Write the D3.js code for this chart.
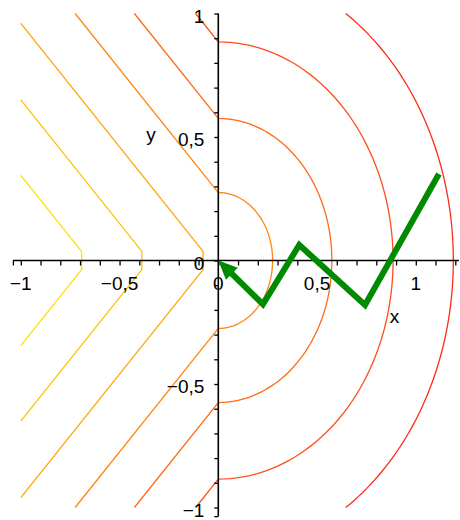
<!DOCTYPE html>
<html>
<head>
<meta charset="utf-8">
<script src="https://cdn.jsdelivr.net/npm/d3@7"></script>
<style>
  body { margin: 0; background: #fff; }
  svg { display: block; }
  text { font-family: "Liberation Sans", Arial, Helvetica, sans-serif; font-size: 19px; fill: #000; }
</style>
</head>
<body>
<svg id="chart" width="460" height="520"></svg>
<script>
// Contour levels of f(x, y): x + |y| on the left half-plane, sqrt(x^2 + y^2) on the right
const contourLevels = [-0.655, -0.35, -0.04, 0.275, 0.575, 0.885, 1.19];
const contourColors = ["#ffdf00", "#ffc300", "#ffa400", "#ff8712", "#ff6a18", "#ff4d1c", "#ff2a14"];
// half-height of the flat tip where the V-shaped levels meet the x-axis
const tipHalfHeight = 0.037;

// Polyline ending with an arrow at the origin
const pathX = [1.117, 0.743, 0.41, 0.226, 0];
const pathY = [0.35, -0.18, 0.063, -0.177, 0];

// Tick labels (decimal comma)
const xTickValues = [-1, -0.5, 0, 0.5, 1];
const xTickLabels = ["\u22121", "\u22120,5", "0", "0,5", "1"];
const yTickValues = [1, 0.5, 0, -0.5, -1];
const yTickLabels = ["1", "0,5", "0", "\u22120,5", "\u22121"];

const svg = d3.select("#chart");

const x = d3.scaleLinear().domain([-1, 1.2]).range([20.8, 455.3]);
const y = d3.scaleLinear().domain([-1, 1]).range([507.5, 13.5]);

// ---- contour curves ----
function levelPoints(c) {
  const h = tipHalfHeight;
  const pts = [];
  if (c < 0) {
    const x0 = Math.max(-1, c - 1);
    pts.push([x0, c - x0], [c - h, h], [c - h, -h], [x0, -(c - x0)]);
    return pts;
  }
  const hasLeft = c < 1;
  const x0 = Math.max(-1, c - 1);
  if (hasLeft) pts.push([x0, c - x0], [0, c]);
  const a0 = c > 1 ? Math.asin(1 / c) : Math.PI / 2;
  const n = 90;
  d3.range(n + 1).forEach(i => {
    const a = a0 - (2 * a0 * i) / n;
    pts.push([c * Math.cos(a), c * Math.sin(a)]);
  });
  if (hasLeft) pts.push([0, -c], [x0, -(c - x0)]);
  return pts;
}

const line = d3.line().x(d => x(d[0])).y(d => y(d[1]));

svg.append("g").attr("class", "contours")
  .selectAll("path")
  .data(contourLevels)
  .join("path")
  .attr("d", c => line(levelPoints(c)))
  .attr("fill", "none")
  .attr("stroke", (c, i) => contourColors[i])
  .attr("stroke-width", 1.3);

// ---- axes through the origin ----
const xTicks = d3.range(-10, 13).map(i => i / 10).concat([-1.04]);
const yTicks = d3.range(-10, 11).map(i => i / 10).concat([-1.035]);

const gx = svg.append("g").attr("transform", `translate(0,${y(0)})`)
  .call(d3.axisBottom(x).tickValues(xTicks).tickSize(5).tickFormat(""));
gx.select(".domain").remove();
gx.append("line").attr("x1", x(-1.04)).attr("x2", 459).attr("y1", 0).attr("y2", 0)
  .attr("stroke", "#000").attr("stroke-width", 1.6);

const gy = svg.append("g").attr("transform", `translate(${x(0)},0)`)
  .call(d3.axisLeft(y).tickValues(yTicks).tickSize(4).tickFormat(""));
gy.select(".domain").remove();
gy.append("line").attr("x1", 0).attr("x2", 0).attr("y1", y(1)).attr("y2", y(-1.035))
  .attr("stroke", "#000").attr("stroke-width", 1.6);

svg.selectAll(".tick line").attr("stroke", "#000").attr("stroke-width", 1.3);

svg.append("g").selectAll("text")
  .data(xTickValues)
  .join("text")
  .attr("x", d => x(d))
  .attr("y", y(0) + 29.5)
  .attr("text-anchor", "middle")
  .text((d, i) => xTickLabels[i]);

svg.append("g").selectAll("text")
  .data(yTickValues)
  .join("text")
  .attr("x", x(0) - 14)
  .attr("y", d => y(d) + 9)
  .attr("text-anchor", "end")
  .text((d, i) => yTickLabels[i]);

svg.append("text").attr("x", 394.5).attr("y", 323).attr("text-anchor", "middle").text("x");
svg.append("text").attr("x", 151).attr("y", 141).attr("text-anchor", "middle").text("y");

// ---- green path with arrowhead ----
const pts = pathX.map((v, i) => [x(v), y(pathY[i])]);
const tip = pts[pts.length - 1];
const prev = pts[pts.length - 2];
const dx = tip[0] - prev[0], dy = tip[1] - prev[1];
const len = Math.hypot(dx, dy);
const ux = dx / len, uy = dy / len;
const headLen = 19, headHalf = 8.5;
const base = [tip[0] - ux * headLen, tip[1] - uy * headLen];
const shaft = pts.slice(0, -1).concat([[tip[0] - ux * (headLen - 2), tip[1] - uy * (headLen - 2)]]);

svg.append("path")
  .attr("d", d3.line()(shaft))
  .attr("fill", "none")
  .attr("stroke", "#008a00")
  .attr("stroke-width", 6)
  .attr("stroke-linejoin", "miter")
  .attr("stroke-miterlimit", 10);

svg.append("path")
  .attr("d", d3.line()([
    tip,
    [base[0] - uy * headHalf, base[1] + ux * headHalf],
    [base[0] + uy * headHalf, base[1] - ux * headHalf]
  ]) + "Z")
  .attr("fill", "#008a00");
</script>
</body>
</html>
